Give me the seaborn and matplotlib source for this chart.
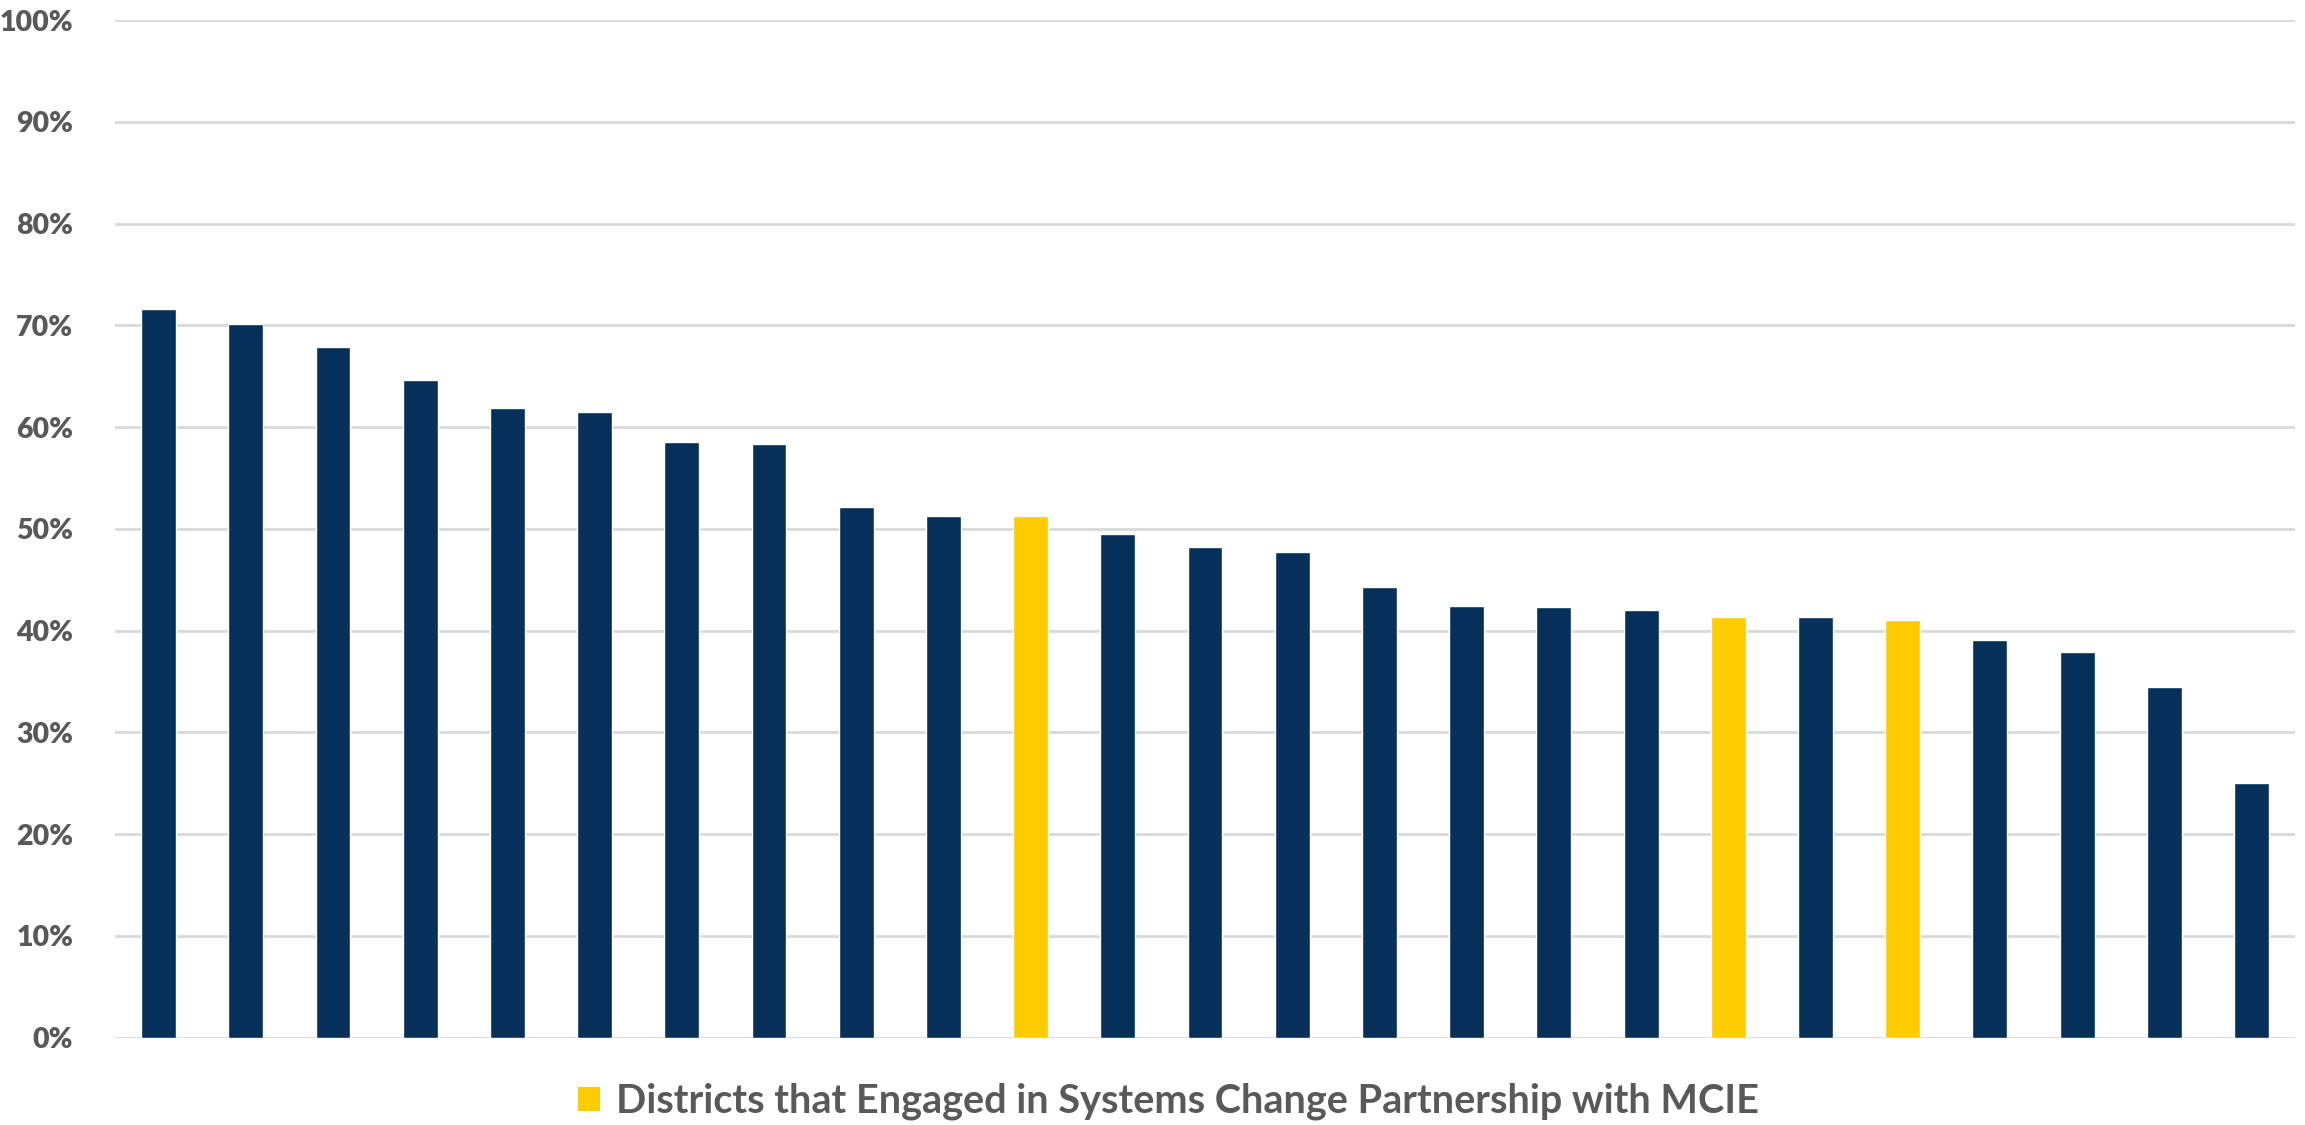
import matplotlib
matplotlib.use("Agg")
import matplotlib.pyplot as plt
from matplotlib.patches import Patch
from matplotlib.ticker import PercentFormatter, MultipleLocator
import pandas as pd
import seaborn as sns

# Share of students per district, sorted high to low
districts = [f"District {i}" for i in range(1, 26)]
share_pct = [71.6, 70.1, 67.9, 64.6, 61.9, 61.5, 58.5, 58.3, 52.1, 51.3,
             51.3, 49.5, 48.2, 47.7, 44.3, 42.4, 42.3, 42.0, 41.3, 41.3,
             41.0, 39.1, 37.9, 34.5, 25.0]
engaged = [False] * 10 + [True] + [False] * 7 + [True, False, True] + [False] * 4

group_labels = ["Other Districts", "Districts that Engaged in Systems Change Partnership with MCIE"]
NAVY = "#06305A"
GOLD = "#FFCC00"
TEXT = "#595959"
GRID = "#D9D9D9"

df = pd.DataFrame({
    "district": districts,
    "share": [v / 100 for v in share_pct],
    "group": [group_labels[1] if e else group_labels[0] for e in engaged],
})

sns.set_theme(style="white")
plt.rcParams["font.family"] = ["Lato", "DejaVu Sans"]

fig = plt.figure(figsize=(23.05, 11.25), dpi=100)
ax = fig.add_axes([0.0499, 0.0776, 0.9458, 0.9046])

sns.barplot(data=df, x="district", y="share", hue="group",
            palette={group_labels[0]: NAVY, group_labels[1]: GOLD},
            dodge=False, width=0.4, saturation=1, legend=False,
            order=districts, ax=ax)

ax.set_ylim(0, 1)
ax.set_xlim(-0.5, len(districts) - 0.5)
ax.yaxis.set_major_locator(MultipleLocator(0.1))
ax.yaxis.set_major_formatter(PercentFormatter(1.0, decimals=0))
ax.grid(axis="y", color=GRID, linewidth=2)
ax.set_axisbelow(True)
for s in ax.spines.values():
    s.set_visible(False)
ax.set_xticks([])
ax.set_xlabel("")
ax.set_ylabel("")
ax.tick_params(axis="y", length=0, pad=30, labelsize=20.5, labelcolor=TEXT)
for lbl in ax.get_yticklabels():
    lbl.set_fontweight("heavy")

handle = Patch(facecolor=GOLD, edgecolor="none")
fig.legend([handle], [group_labels[1]], loc="center",
           bbox_to_anchor=(0.507, 0.021), frameon=False,
           prop={"size": 28.5, "weight": "bold"}, labelcolor=TEXT,
           handlelength=0.55, handleheight=0.55, handletextpad=0.4)

fig.savefig("out.png", dpi=100, facecolor="white")
